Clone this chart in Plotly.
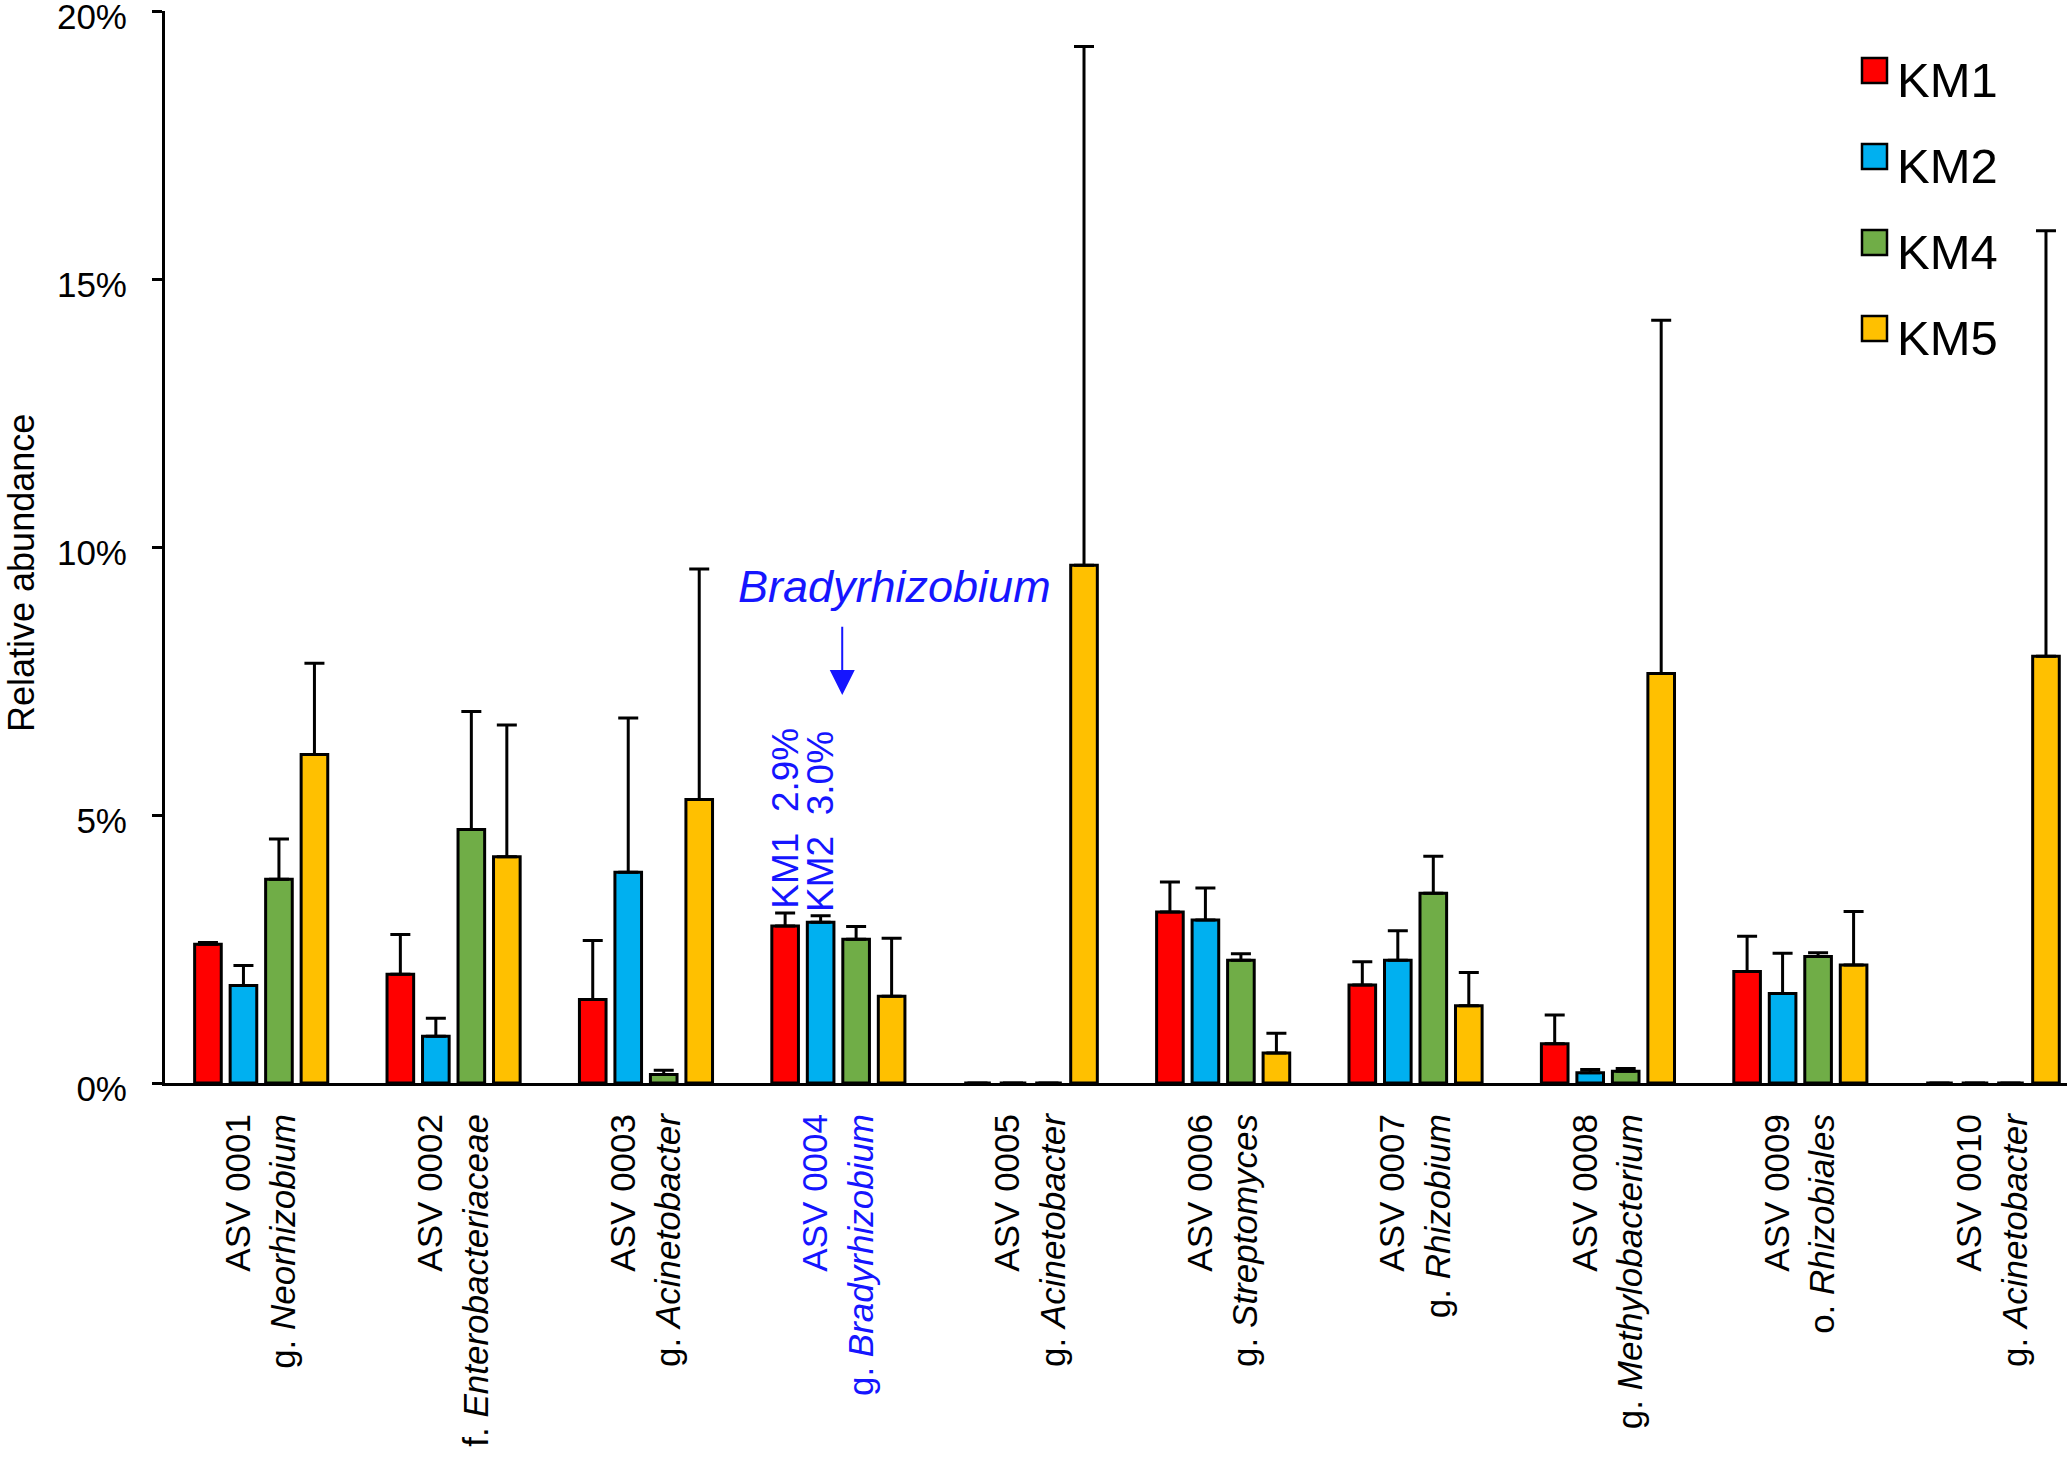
import plotly.graph_objects as go

# ---- data (% relative abundance) ----
asv_ids = ["ASV 0001", "ASV 0002", "ASV 0003", "ASV 0004", "ASV 0005",
           "ASV 0006", "ASV 0007", "ASV 0008", "ASV 0009", "ASV 0010"]
taxon_ranks = ["g.", "f.", "g.", "g.", "g.", "g.", "g.", "g.", "o.", "g."]
taxon_names = ["Neorhizobium", "Enterobacteriaceae", "Acinetobacter", "Bradyrhizobium",
               "Acinetobacter", "Streptomyces", "Rhizobium", "Methylobacterium",
               "Rhizobiales", "Acinetobacter"]
highlight_idx = 3  # ASV 0004 (Bradyrhizobium)

series_names = ["KM1", "KM2", "KM4", "KM5"]
series_colors = ["#FF0000", "#00B0F0", "#70AD47", "#FFC000"]

km1_mean = [2.59, 2.03, 1.56, 2.93, 0.0, 3.19, 1.83, 0.73, 2.08, 0.0]
km1_sd = [0.03, 0.74, 1.10, 0.24, 0.0, 0.56, 0.43, 0.54, 0.66, 0.0]
km2_mean = [1.82, 0.87, 3.93, 3.00, 0.0, 3.04, 2.29, 0.19, 1.67, 0.0]
km2_sd = [0.37, 0.34, 2.88, 0.12, 0.0, 0.60, 0.55, 0.06, 0.75, 0.0]
km4_mean = [3.80, 4.73, 0.16, 2.68, 0.0, 2.29, 3.54, 0.22, 2.36, 0.0]
km4_sd = [0.75, 2.20, 0.08, 0.24, 0.0, 0.12, 0.69, 0.05, 0.07, 0.0]
km5_mean = [6.13, 4.22, 5.29, 1.62, 9.66, 0.56, 1.44, 7.64, 2.20, 7.96]
km5_sd = [1.70, 2.46, 4.30, 1.08, 9.68, 0.37, 0.62, 6.59, 1.00, 7.94]

means = [km1_mean, km2_mean, km4_mean, km5_mean]
sds = [km1_sd, km2_sd, km4_sd, km5_sd]

y_ticks = [0, 5, 10, 15, 20]
y_tick_labels = ["0%", "5%", "10%", "15%", "20%"]
y_title = "Relative abundance"
callout_labels = ["KM1\u00a0 2.9%", "KM2\u00a0 3.0%"]

BLUE = "#1515FF"
FONT = "Liberation Sans, Arial, Helvetica, sans-serif"
W, H = 2067, 1463
ML, MT, MB = 165, 11, 380
BARGAP, GROUPGAP = 0.262, 0.25


def px_to_paper(xp, yp):
    # pixel on the page -> paper coords
    return (xp - ML) / (W - ML), (H - MB - yp) / (H - MB - MT)


tick_text = []
for i, (a, r, n) in enumerate(zip(asv_ids, taxon_ranks, taxon_names)):
    if i == highlight_idx:
        tick_text.append(f"<span style='color:{BLUE}'>{a}</span><br>"
                         f"<span style='color:{BLUE}'>{r} <i>{n}</i></span>")
    else:
        tick_text.append(f"{a}<br>{r} <i>{n}</i>")

fig = go.Figure()
for name, mean, sd, color in zip(series_names, means, sds, series_colors):
    fig.add_trace(go.Bar(
        x=asv_ids, y=mean, name=name,
        marker=dict(color=color, line=dict(color="black", width=3)),
        error_y=dict(type="data", array=sd, arrayminus=[0] * len(sd), symmetric=False,
                     color="black", thickness=3, width=10),
        showlegend=False,
    ))

# legend drawn by hand (big squares like the original)
for k, (name, color) in enumerate(zip(series_names, series_colors)):
    top = 58 + 86 * k
    x0, y0 = px_to_paper(1862, top + 25)
    x1, y1 = px_to_paper(1887, top)
    fig.add_shape(type="rect", xref="paper", yref="paper", x0=x0, x1=x1, y0=y0, y1=y1,
                  fillcolor=color, line=dict(color="black", width=2.5))
    tx, ty = px_to_paper(1895, top + 22)
    fig.add_annotation(xref="paper", yref="paper", x=tx, y=ty, text=name, showarrow=False,
                       xanchor="left", yanchor="middle", font=dict(size=49, color="black"))

# y axis title, placed like the original (a bit below the middle)
tx, ty = px_to_paper(21, 573)
fig.add_annotation(xref="paper", yref="paper", x=tx, y=ty, text=y_title, textangle=-90,
                   showarrow=False, xanchor="center", yanchor="middle",
                   font=dict(size=36, color="black"))

# Bradyrhizobium call-out
slot = (1 - BARGAP) / len(series_names)
for j, lab in enumerate(callout_labels):
    xoff = (j - 1.5) * slot
    fig.add_annotation(x=highlight_idx + xoff, y=means[j][highlight_idx] + sds[j][highlight_idx],
                       text=lab, textangle=-90, showarrow=False, xanchor="center",
                       yanchor="bottom", yshift=2, font=dict(size=37, color=BLUE))

fig.add_annotation(x=3.29, y=9.27, text="<i>Bradyrhizobium</i>", showarrow=False,
                   font=dict(size=45, color=BLUE))
fig.add_annotation(x=3.02, y=7.24, ax=3.02, ay=8.54, axref="x", ayref="y", text="",
                   showarrow=True, arrowhead=2, arrowsize=2.5, arrowwidth=2, arrowcolor=BLUE)

fig.update_layout(
    width=W, height=H,
    margin=dict(l=ML, r=0, t=MT, b=MB, autoexpand=False),
    plot_bgcolor="white", paper_bgcolor="white",
    barmode="group", bargap=BARGAP, bargroupgap=GROUPGAP,
    font=dict(family=FONT, color="black", size=35),
    xaxis=dict(range=[-0.5, 9.386], tickmode="array", tickvals=asv_ids, ticktext=tick_text,
               tickangle=-90, ticks="", showline=True, linecolor="black", linewidth=3,
               showgrid=False, zeroline=False, tickfont=dict(size=35), ticklabelstandoff=14,
               automargin=False),
    yaxis=dict(range=[0, 20], tickmode="array", tickvals=y_ticks, ticktext=y_tick_labels,
               ticks="outside", ticklen=10, tickwidth=3, tickcolor="black", showline=True,
               linecolor="black", linewidth=3, showgrid=False, zeroline=False,
               tickfont=dict(size=35), ticklabelstandoff=18, ticklabelshift=6,
               ticklabeloverflow="allow", automargin=False),
)

# drop the default 8px page margin so the figure fills the window exactly
fig.write_html("out.html", config={"displayModeBar": False},
               post_script="document.body.style.margin='0';")
